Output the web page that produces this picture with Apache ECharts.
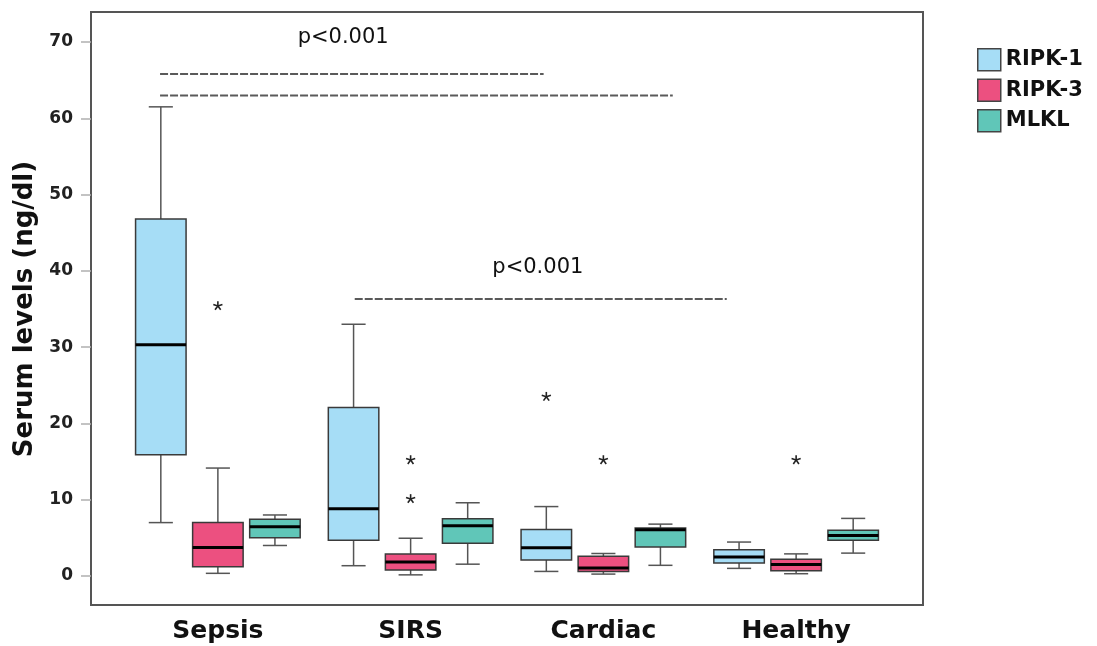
<!DOCTYPE html>
<html>
<head>
<meta charset="utf-8">
<script src="https://cdn.jsdelivr.net/npm/echarts@6/dist/echarts.min.js"></script>
<style>
html,body{margin:0;padding:0;background:#fff;}
#chart{width:1097px;height:646px;}
</style>
</head>
<body>
<div id="chart"></div>
<script>
// ---------- data ----------
const categories = ['Sepsis', 'SIRS', 'Cardiac', 'Healthy'];
const seriesNames = ['RIPK-1', 'RIPK-3', 'MLKL'];
const yTicks = [0, 10, 20, 30, 40, 50, 60, 70];
// [categoryIndex, lowWhisker, Q1, median, Q3, highWhisker]
const ripk1 = [
  [0, 7.0, 15.9, 30.3, 46.8, 61.5],
  [1, 1.35, 4.7, 8.8, 22.1, 33.0],
  [2, 0.6, 2.1, 3.7, 6.1, 9.1],
  [3, 1.0, 1.7, 2.5, 3.45, 4.45]
];
const ripk3 = [
  [0, 0.35, 1.2, 3.75, 7.0, 14.15],
  [1, 0.15, 0.8, 1.85, 2.9, 4.95],
  [2, 0.25, 0.6, 1.05, 2.6, 2.95],
  [3, 0.3, 0.7, 1.5, 2.2, 2.9]
];
const mlkl = [
  [0, 4.0, 5.0, 6.45, 7.45, 8.0],
  [1, 1.55, 4.3, 6.6, 7.5, 9.6],
  [2, 1.4, 3.8, 6.05, 6.3, 6.8],
  [3, 3.0, 4.7, 5.3, 6.0, 7.55]
];
// outliers: [categoryIndex, seriesIndex, value]
const outliers = [
  [0, 1, 35.4],
  [1, 1, 15.2],
  [1, 1, 10.1],
  [2, 0, 23.5],
  [2, 1, 15.2],
  [3, 1, 15.2]
];
// significance bars: [startPos, endPos, y]  (positions in category units)
const sigLines = [
  [-0.30, 1.69, 65.8],
  [-0.30, 2.36, 63.0],
  [0.71, 2.64, 36.3]
];
// significance labels: [pos, y, text]
const sigLabels = [
  [0.65, 70.6, 'p<0.001'],
  [1.66, 40.4, 'p<0.001']
];
// ---------- style ----------
const colors = ['#a6ddf6', '#ec5080', '#60c6b8'];
const FONT = 'DejaVu Sans';
const offsetFrac = 0.296, boxFrac = 0.262, capFrac = 0.125;

function boxRenderer(k) {
  return function (params, api) {
    const band = api.size([1, 0])[0];
    const cx = api.coord([api.value(0), 0])[0] + (k - 1) * band * offsetFrac;
    const yLo = api.coord([0, api.value(1)])[1];
    const yQ1 = api.coord([0, api.value(2)])[1];
    const yMed = api.coord([0, api.value(3)])[1];
    const yQ3 = api.coord([0, api.value(4)])[1];
    const yHi = api.coord([0, api.value(5)])[1];
    const bw = band * boxFrac, cw = band * capFrac;
    const wStyle = {stroke: '#555', lineWidth: 1.5};
    return {
      type: 'group',
      children: [
        {type: 'line', shape: {x1: cx, y1: yQ1, x2: cx, y2: yLo}, style: wStyle},
        {type: 'line', shape: {x1: cx - cw / 2, y1: yLo, x2: cx + cw / 2, y2: yLo}, style: wStyle},
        {type: 'line', shape: {x1: cx, y1: yQ3, x2: cx, y2: yHi}, style: wStyle},
        {type: 'line', shape: {x1: cx - cw / 2, y1: yHi, x2: cx + cw / 2, y2: yHi}, style: wStyle},
        {type: 'rect', shape: {x: cx - bw / 2, y: yQ3, width: bw, height: yQ1 - yQ3},
          style: {fill: api.visual('color'), stroke: '#3a3a3a', lineWidth: 1.5}},
        {type: 'line', shape: {x1: cx - bw / 2, y1: yMed, x2: cx + bw / 2, y2: yMed},
          style: {stroke: '#000', lineWidth: 3}}
      ]
    };
  };
}

function starRenderer(params, api) {
  const band = api.size([1, 0])[0];
  const cx = api.coord([api.value(0), 0])[0] + (api.value(1) - 1) * band * offsetFrac;
  const cy = api.coord([0, api.value(2)])[1];
  const r = 4.8;
  const children = [];
  for (let i = 0; i < 5; i++) {
    const a = -Math.PI / 2 + i * 2 * Math.PI / 5;
    children.push({type: 'line', shape: {x1: cx, y1: cy, x2: cx + r * Math.cos(a), y2: cy + r * Math.sin(a)},
      style: {stroke: '#222', lineWidth: 1.6}});
  }
  return {type: 'group', children: children};
}

function sigLineRenderer(params, api) {
  const band = api.size([1, 0])[0];
  const x0 = api.coord([0, 0])[0];
  const y = api.coord([0, api.value(2)])[1];
  return {type: 'line',
    shape: {x1: x0 + api.value(0) * band, y1: y, x2: x0 + api.value(1) * band, y2: y},
    style: {stroke: '#5a5a5a', lineWidth: 2, lineDash: [8, 2]}};
}

function sigLabelRenderer(params, api) {
  const band = api.size([1, 0])[0];
  const x0 = api.coord([0, 0])[0];
  const y = api.coord([0, api.value(1)])[1];
  return {type: 'text', x: x0 + api.value(0) * band, y: y,
    style: {text: sigLabels[params.dataIndex][2], fontFamily: FONT, fontSize: 21,
      fill: '#111', align: 'center', verticalAlign: 'middle'}};
}

const chart = echarts.init(document.getElementById('chart'), null, {renderer: 'canvas'});
const boxData = [ripk1, ripk3, mlkl];

const option = {
  animation: false,
  backgroundColor: '#fff',
  legend: {
    data: seriesNames,
    orient: 'vertical',
    left: 977, top: 48,
    padding: 0,
    icon: 'rect',
    itemWidth: 23, itemHeight: 22, itemGap: 7,
    itemStyle: {borderColor: '#444', borderWidth: 1.5},
    textStyle: {fontFamily: FONT, fontWeight: 'bold', fontSize: 21, color: '#111'}
  },
  grid: [
    {left: 91, right: 174, top: 12, bottom: 41, show: true, borderColor: '#555', borderWidth: 2, backgroundColor: 'transparent'},
    {left: 121.5, right: 204.5, top: 42, bottom: 70}
  ],
  xAxis: [
    {gridIndex: 0, type: 'value', show: false, min: 0, max: 1},
    {gridIndex: 1, type: 'category', data: categories, boundaryGap: true, position: 'bottom', offset: 29,
      axisLine: {show: false}, axisTick: {show: false},
      axisLabel: {fontFamily: FONT, fontWeight: 'bold', fontSize: 25, color: '#111', margin: 14}}
  ],
  yAxis: [
    {gridIndex: 0, type: 'value', show: false, min: 0, max: 1},
    {gridIndex: 1, type: 'value', min: yTicks[0], max: yTicks[yTicks.length - 1], interval: 10,
      position: 'left', offset: 30.5,
      splitLine: {show: false},
      axisLine: {show: false},
      axisTick: {show: true, length: 10, lineStyle: {color: '#b0b0b0', width: 1.5}},
      axisLabel: {fontFamily: FONT, fontWeight: 'bold', fontSize: 17, color: '#222', margin: 18},
      name: 'Serum levels (ng/dl)', nameLocation: 'middle', nameGap: 52,
      nameTextStyle: {fontFamily: FONT, fontWeight: 'bold', fontSize: 26, color: '#111'}
    }
  ],
  series: [
    ...seriesNames.map((name, k) => ({
      name: name, type: 'custom', xAxisIndex: 1, yAxisIndex: 1,
      itemStyle: {color: colors[k]},
      encode: {x: 0, y: [1, 2, 3, 4, 5]},
      renderItem: boxRenderer(k),
      data: boxData[k]
    })),
    {name: 'outliers', type: 'custom', xAxisIndex: 1, yAxisIndex: 1,
      encode: {x: 0, y: 2}, renderItem: starRenderer, data: outliers},
    {name: 'sig', type: 'custom', xAxisIndex: 1, yAxisIndex: 1,
      encode: {y: 2}, renderItem: sigLineRenderer, data: sigLines},
    {name: 'sigText', type: 'custom', xAxisIndex: 1, yAxisIndex: 1,
      encode: {y: 1}, renderItem: sigLabelRenderer, data: sigLabels.map(d => [d[0], d[1]])}
  ]
};
chart.setOption(option);
</script>
</body>
</html>
